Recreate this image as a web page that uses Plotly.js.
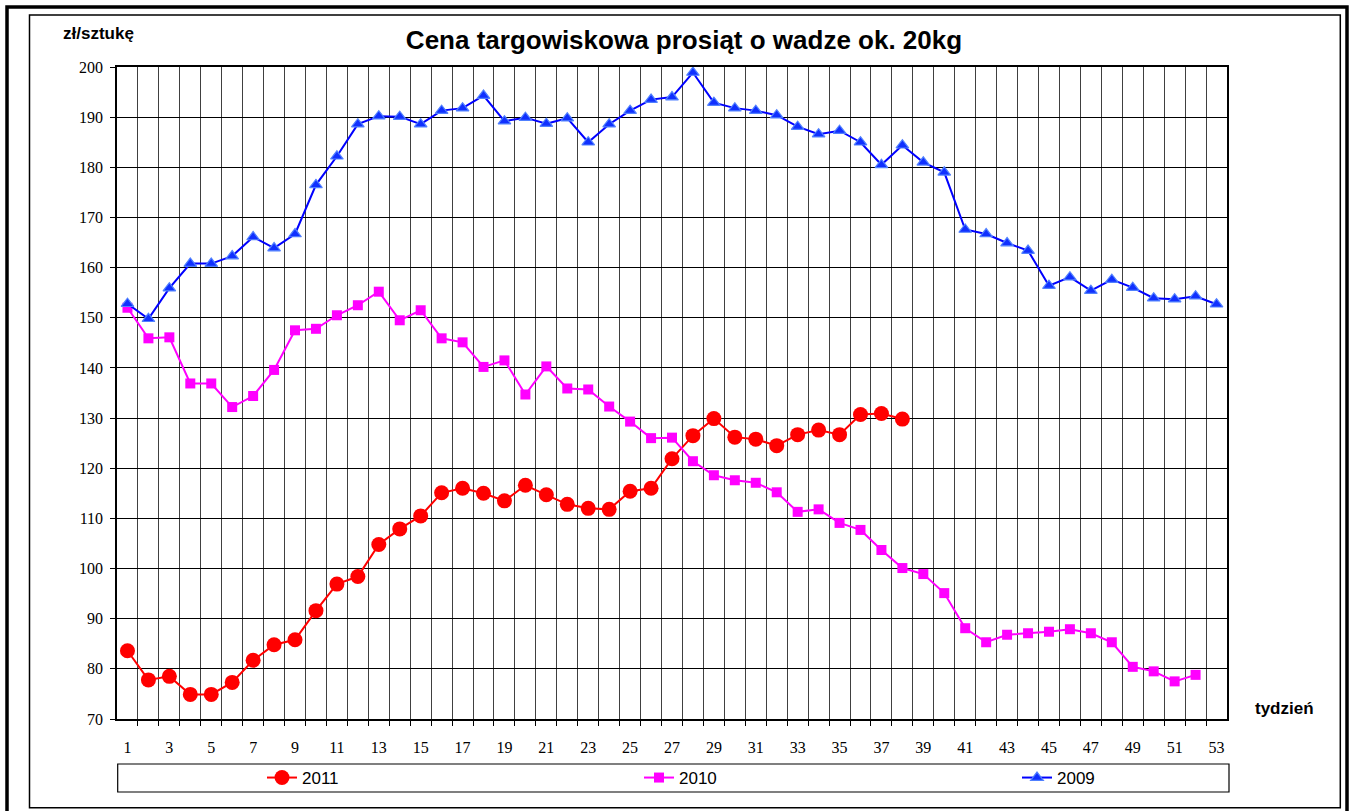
<!DOCTYPE html>
<html><head><meta charset="utf-8">
<script src="https://cdn.plot.ly/plotly-3.0.1.min.js"></script>
<style>html,body{margin:0;padding:0;background:#fff;}</style>
</head><body>
<div id="chart" style="width:1356px;height:811px;"></div>
<script>
// ---- data ----
const weeks = [1,2,3,4,5,6,7,8,9,10,11,12,13,14,15,16,17,18,19,20,21,22,23,24,25,26,27,28,29,30,31,32,33,34,35,36,37,38,39,40,41,42,43,44,45,46,47,48,49,50,51,52,53];
const tickWeeks = [1,3,5,7,9,11,13,15,17,19,21,23,25,27,29,31,33,35,37,39,41,43,45,47,49,51,53];
const tickLabels = ['1','3','5','7','9','11','13','15','17','19','21','23','25','27','29','31','33','35','37','39','41','43','45','47','49','51','53'];
const seriesNames = ['2011','2010','2009'];
const price2011 = [83.6,77.8,78.5,74.9,74.9,77.3,81.7,84.8,85.8,91.6,
  96.9,98.4,104.8,107.9,110.5,115.1,116.0,115.0,113.5,116.6,
  114.7,112.8,112.0,111.8,115.4,116.0,121.9,126.5,129.9,126.2,
  125.8,124.5,126.7,127.6,126.7,130.7,130.9,129.8];
const price2010 = [152.0,145.9,146.1,136.9,136.9,132.2,134.4,139.6,147.5,147.8,
  150.5,152.5,155.2,149.5,151.5,145.9,145.1,140.2,141.5,134.7,
  140.3,135.9,135.7,132.3,129.3,126.0,126.1,121.4,118.6,117.6,
  117.1,115.2,111.3,111.8,109.1,107.7,103.7,100.1,98.9,95.1,
  88.1,85.3,86.8,87.1,87.4,87.9,87.1,85.3,80.4,79.5,
  77.5,78.8];
const price2009 = [152.8,149.8,155.9,160.8,160.8,162.3,166.1,163.9,166.7,176.5,
  182.2,188.6,190.2,190.1,188.6,191.3,191.8,194.3,189.2,189.9,
  188.7,189.8,185.0,188.6,191.3,193.5,194.0,198.9,192.9,191.8,
  191.3,190.4,188.1,186.6,187.3,185.0,180.5,184.4,181.0,179.0,
  167.6,166.7,164.9,163.4,156.4,158.1,155.4,157.6,156.0,153.9,
  153.7,154.3,152.7];

// ---- layout helpers ----
const W = 1356, H = 811, L = 117, R = 129, T = 67, B = 92;
const px = x => (x - L) / (W - L - R);
const py = y => (H - B - y) / (H - T - B);
const boundaries = weeks.slice(0, -1).map(w => w + 0.5);

const traces = [
  {x: weeks.slice(0, price2011.length), y: price2011, name: seriesNames[0], legend: 'legend', type: 'scatter', mode: 'lines+markers',
   line: {color: '#FF0000', width: 2}, marker: {symbol: 'circle', size: 15, color: '#FF0000'}},
  {x: weeks.slice(0, price2010.length), y: price2010, name: seriesNames[1], legend: 'legend2', type: 'scatter', mode: 'lines+markers',
   line: {color: '#FF00FF', width: 2}, marker: {symbol: 'square', size: 10, color: '#FF00FF'}},
  {x: weeks.slice(0, price2009.length), y: price2009, name: seriesNames[2], legend: 'legend3', type: 'scatter', mode: 'lines+markers',
   line: {color: '#0000FF', width: 2}, marker: {symbol: 'triangle-up', size: 11, color: '#1030FF', line: {color: '#5080FF', width: 1.2}}}
];

const legendFont = {family: 'Liberation Sans Narrow, Liberation Sans, Arial, sans-serif', size: 17, color: '#000'};
const mkLegend = xPix => ({orientation: 'h', x: px(xPix), xanchor: 'left', y: py(778), yanchor: 'middle',
  bgcolor: 'rgba(0,0,0,0)', borderwidth: 0, font: legendFont});

const layout = {
  width: W, height: H,
  margin: {l: L, r: R, t: T, b: B},
  paper_bgcolor: '#ffffff', plot_bgcolor: '#ffffff',
  title: {text: 'Cena targowiskowa prosiąt o wadze ok. 20kg',
    font: {family: 'Liberation Sans, Arial, sans-serif', size: 26, color: '#000', weight: 'bold'},
    x: 684 / W, xanchor: 'center', y: 1 - 40 / H, yanchor: 'middle', xref: 'container', yref: 'container'},
  xaxis: {
    range: [0.5, 53.5], tickmode: 'array', tickvals: tickWeeks, ticktext: tickLabels,
    showgrid: false, ticks: '', zeroline: false, ticklabelstandoff: 13,
    tickfont: {family: 'Liberation Serif, Times New Roman, serif', size: 16, color: '#000'},
    showline: true, mirror: true, linecolor: '#000', linewidth: 1.5,
    minor: {tickmode: 'array', tickvals: boundaries, showgrid: true, gridcolor: '#404040', gridwidth: 1,
      ticks: 'outside', ticklen: 5, tickcolor: '#000', tickwidth: 1}
  },
  yaxis: {
    range: [70, 200], tickmode: 'linear', tick0: 70, dtick: 10,
    showgrid: true, gridcolor: '#000', gridwidth: 1, zeroline: false,
    ticks: 'outside', ticklen: 5, tickcolor: '#000', ticklabelstandoff: 4,
    tickfont: {family: 'Liberation Serif, Times New Roman, serif', size: 16, color: '#000'},
    showline: true, mirror: true, linecolor: '#000', linewidth: 1.5
  },
  showlegend: true,
  legend: mkLegend(262),
  legend2: mkLegend(639),
  legend3: mkLegend(1017),
  annotations: [
    {text: 'zł/sztukę', x: px(98), y: py(33), xref: 'paper', yref: 'paper', showarrow: false,
     xanchor: 'center', yanchor: 'middle', font: {family: 'Liberation Sans, Arial, sans-serif', size: 17, color: '#000', weight: 'bold'}},
    {text: 'tydzień', x: px(1284), y: py(708), xref: 'paper', yref: 'paper', showarrow: false,
     xanchor: 'center', yanchor: 'middle', font: {family: 'Liberation Sans, Arial, sans-serif', size: 17, color: '#000', weight: 'bold'}}
  ],
  shapes: [
    {type: 'rect', xref: 'paper', yref: 'paper', x0: px(7), x1: px(1347), y0: py(7), y1: py(814),
     line: {color: '#000', width: 3.5}, fillcolor: 'rgba(0,0,0,0)'},
    {type: 'rect', xref: 'paper', yref: 'paper', x0: px(29.5), x1: px(1340.3), y0: py(15), y1: py(807.7),
     line: {color: '#000', width: 1.5}, fillcolor: 'rgba(0,0,0,0)'},
    {type: 'rect', xref: 'paper', yref: 'paper', x0: px(117.7), x1: px(1229), y0: py(764), y1: py(792),
     line: {color: '#000', width: 1.2}, fillcolor: 'rgba(0,0,0,0)'}
  ]
};

Plotly.newPlot('chart', traces, layout, {displayModeBar: false, responsive: false});
</script>
</body></html>
